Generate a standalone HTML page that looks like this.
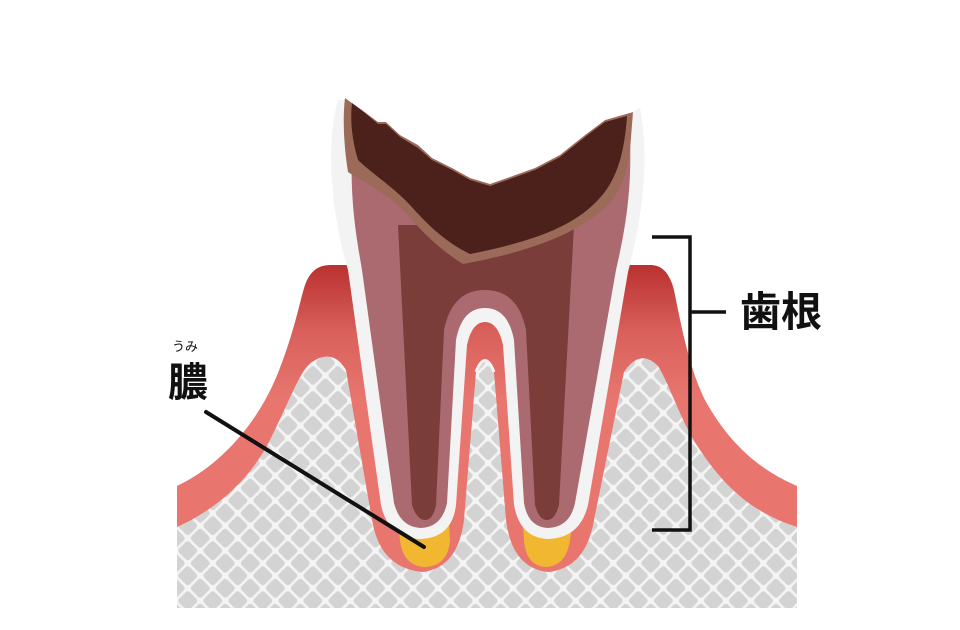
<!DOCTYPE html>
<html><head><meta charset="utf-8"><style>
html,body{margin:0;padding:0;background:#fff;}
svg{display:block;}
</style></head><body>
<svg width="960" height="630" viewBox="0 0 960 630" xmlns="http://www.w3.org/2000/svg">
<defs>
<pattern id="lat" width="17.7" height="17.7" patternUnits="userSpaceOnUse" patternTransform="rotate(45 0 0)">
<rect width="17.7" height="17.7" fill="#f4f4f4"/>
<rect x="1.3" y="1.3" width="15.1" height="15.1" rx="3" fill="#d3d3d3"/>
</pattern>
<linearGradient id="gum" x1="0" y1="264" x2="0" y2="400" gradientUnits="userSpaceOnUse">
<stop offset="0" stop-color="#b9302f"/>
<stop offset="0.5" stop-color="#d9605b"/>
<stop offset="1" stop-color="#e8766f"/>
</linearGradient>
</defs>
<!-- gum -->
<path d="M177,486 C215,468 255,430 278,373 C295,330 300,300 305,285 Q312,265 330,265 L335,265 L652,265 Q668,266 674,290 C682,330 690,370 705,400 C730,445 760,470 797,486 L797,608 L177,608 Z" fill="url(#gum)"/>
<!-- bone -->
<path d="M177,527 C215,510 250,480 270,440 C290,400 300,370 312,362 Q333,348 346,370 L372,520 Q380,568 422,572 Q458,568 464,520 L476,372 Q485,352 494,372 L506,520 Q512,568 548,572 Q586,568 594,520 L624,372 Q640,348 658,366 C670,385 680,420 700,450 C730,495 760,515 797,527 L797,608 L177,608 Z" fill="url(#lat)"/>
<path d="M476,372 Q485,349 494,372" fill="none" stroke="#f3f3f3" stroke-width="3"/>
<!-- pus -->
<path d="M396,508 L448,508 L450,540 Q448,566 425,567 Q403,566 400,540 Z" fill="#f2b731"/>
<path d="M522,508 L574,508 L570,540 Q566,566 546,567 Q526,566 524,540 Z" fill="#f2b731"/>
<!-- tooth outer white -->
<path d="M338,100 C326,140 330,210 348,270 L381,505 Q388,538 420,539 Q452,538 456,505 L467,345 Q472,322 485,322 Q498,322 503,345 L514,505 Q520,538 548,539 Q580,538 588,505 L628,272 C642,220 650,160 640,108 L633,112 Z" fill="#f3f3f3"/>
<!-- dentin -->
<path d="M352,150 C350,200 356,235 362,270 L394,503 Q400,527 421,528 Q442,527 447,503 L456,340 Q462,308 485,308 Q508,308 514,340 L524,503 Q528,527 548,528 Q570,527 575,503 L616,270 C624,235 632,195 630,140 Z" fill="#ab6a70"/>
<!-- pulp -->
<path d="M398,225 L412,505 Q417,520 425,520 Q433,520 436,505 L444,330 Q452,290 485,290 Q518,290 526,330 L535,505 Q539,520 547,520 Q555,520 559,505 L574,225 Z" fill="#7a3d39"/>
<!-- decay rim -->
<path d="M345,98 L362,110 L378,122 L386,122 L400,135 L418,145 L432,158 L452,168 L470,178 L490,184 L510,177 L535,168 L560,155 L585,135 L605,120 L633,112 L630,150 C626,180 618,195 605,208 C580,230 540,250 463,264 C440,250 420,230 405,212 C385,192 360,180 348,172 C343,140 343,115 345,98 Z" fill="#9b6a58"/>
<path d="M352,103 L365,113 L378,124 L386,124 L400,137 L418,148 L432,160 L452,170 L470,180 L490,186 L510,179 L535,170 L560,157 L585,137 L605,122 L627,116 C624,160 614,185 595,203 C570,228 530,242 470,254 C445,242 427,224 410,205 C392,186 370,172 358,160 C352,140 350,120 352,103 Z" fill="#4c211b"/>
<!-- white above jagged top -->
<path d="M340,70 L345,98 L362,110 L378,122 L386,122 L400,135 L418,145 L432,158 L452,168 L470,178 L490,184 L510,177 L535,168 L560,155 L585,135 L605,120 L633,112 L640,70 Z" fill="#fff"/>
<!-- bracket -->
<path d="M652,237 L690,237 L690,530 L652,530 M690,312 L726,312" fill="none" stroke="#111" stroke-width="3.5"/>
<text x="740" y="326" font-family="'Liberation Sans','Noto Sans CJK JP',sans-serif" font-size="41" font-weight="bold" fill="#111">歯根</text>
<text x="172" y="351" font-family="'Liberation Sans','Noto Sans CJK JP',sans-serif" font-size="13" fill="#111">うみ</text>
<text x="168" y="396" font-family="'Liberation Sans','Noto Sans CJK JP',sans-serif" font-size="40" font-weight="bold" fill="#111">膿</text>
<line x1="206" y1="412" x2="424" y2="547" stroke="#111" stroke-width="4" stroke-linecap="round"/>
</svg>
</body></html>
